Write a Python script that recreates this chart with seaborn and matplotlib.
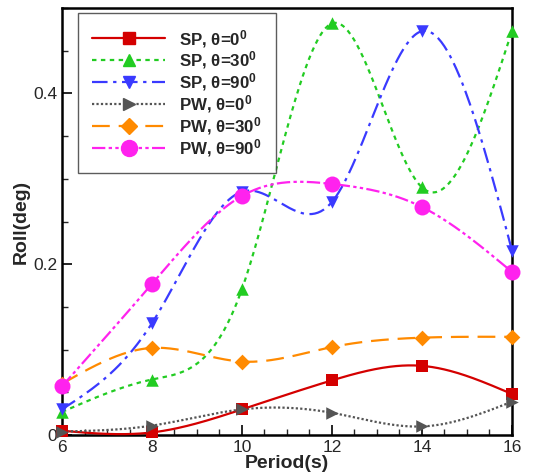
import numpy as np
import pandas as pd
import matplotlib
matplotlib.use("Agg")
import matplotlib.pyplot as plt
import seaborn as sns
from matplotlib.lines import Line2D
from matplotlib.ticker import MultipleLocator

periods = [6, 8, 10, 12, 14, 16]
sp_0 = [0.005, 0.003, 0.030, 0.064, 0.081, 0.048]
sp_30 = [0.027, 0.065, 0.171, 0.482, 0.290, 0.473]
sp_90 = [0.030, 0.131, 0.285, 0.273, 0.473, 0.216]
pw_0 = [0.004, 0.011, 0.030, 0.026, 0.010, 0.039]
pw_30 = [0.060, 0.102, 0.086, 0.103, 0.114, 0.115]
pw_90 = [0.057, 0.177, 0.280, 0.294, 0.267, 0.191]

labels = ["SP, θ=0$^0$", "SP, θ=30$^0$", "SP, θ=90$^0$",
          "PW, θ=0$^0$", "PW, θ=30$^0$", "PW, θ=90$^0$"]
series = [sp_0, sp_30, sp_90, pw_0, pw_30, pw_90]
colors = ["#d40000", "#22cc22", "#3a3aff", "#555555", "#ff8a00", "#ff22ee"]
markers = ["s", "^", "v", ">", "D", "o"]
msizes = [8, 9, 9, 9, 8, 11.5]
dashes = ["-", (0, (2, 2)), (0, (7, 2.5, 1.5, 2.5)), (0, (1, 1)),
          (0, (8, 4)), (0, (6, 1.5, 1.5, 1.5, 1.5, 1.5))]


def natural_spline(x, y, n=300):
    # plain natural cubic spline, only for drawing smooth curves
    x = np.asarray(x, float)
    y = np.asarray(y, float)
    k = len(x)
    h = np.diff(x)
    A = np.zeros((k, k))
    b = np.zeros(k)
    A[0, 0] = A[-1, -1] = 1
    for i in range(1, k - 1):
        A[i, i - 1] = h[i - 1]
        A[i, i] = 2 * (h[i - 1] + h[i])
        A[i, i + 1] = h[i]
        b[i] = 6 * ((y[i + 1] - y[i]) / h[i] - (y[i] - y[i - 1]) / h[i - 1])
    M = np.linalg.solve(A, b)
    xs = np.linspace(x[0], x[-1], n)
    idx = np.clip(np.searchsorted(x, xs) - 1, 0, k - 2)
    x0, x1 = x[idx], x[idx + 1]
    hh = x1 - x0
    a = (x1 - xs) / hh
    c = (xs - x0) / hh
    ys = (a * y[idx] + c * y[idx + 1]
          + ((a ** 3 - a) * M[idx] + (c ** 3 - c) * M[idx + 1]) * hh ** 2 / 6)
    return xs, ys


sns.set_style("ticks")
plt.rcParams["font.family"] = ["Liberation Sans", "DejaVu Sans"]
plt.rcParams["mathtext.fontset"] = "custom"
plt.rcParams["mathtext.rm"] = "Liberation Sans:bold"
plt.rcParams["mathtext.it"] = "Liberation Sans:bold"

fig = plt.figure(figsize=(5.42, 4.75), dpi=100)
ax = fig.add_axes([0.1144, 0.0842, 0.8302, 0.8988])

handles = []
for lab, vals, col, mk, ms, ls in zip(labels, series, colors, markers, msizes, dashes):
    xs, ys = natural_spline(periods, vals)
    sns.lineplot(x=xs, y=ys, ax=ax, color=col, linestyle=ls, linewidth=1.6,
                 clip_on=False, zorder=3)
    df = pd.DataFrame({"x": periods, "y": vals})
    sns.scatterplot(data=df, x="x", y="y", ax=ax, color=col, marker=mk,
                    s=ms ** 2, edgecolor=col, linewidth=0, clip_on=False, zorder=4)
    handles.append(Line2D([], [], color=col, linestyle=ls, linewidth=1.6,
                          marker=mk, markersize=ms, markeredgecolor=col))

ax.set_xlim(6, 16)
ax.set_ylim(0, 0.5)
ax.xaxis.set_major_locator(MultipleLocator(2))
ax.xaxis.set_minor_locator(MultipleLocator(0.5))
ax.yaxis.set_major_locator(MultipleLocator(0.2))
ax.yaxis.set_minor_locator(MultipleLocator(0.05))
ax.set_yticks([0, 0.2, 0.4])
ax.set_yticklabels(["0", "0.2", "0.4"])
ax.tick_params(which="both", direction="in", top=False, right=False, labelsize=12.5)
ax.tick_params(which="major", length=7, width=1.4)
ax.tick_params(which="minor", length=4, width=1)
for sp in ax.spines.values():
    sp.set_linewidth(1.8)
    sp.set_color("black")

ax.set_xlabel("Period(s)", fontsize=14, fontweight="bold", labelpad=0)
ax.set_ylabel("Roll(deg)", fontsize=14, fontweight="bold", labelpad=2)

leg = ax.legend(handles, labels, loc="upper left", bbox_to_anchor=(0.035, 0.988),
                borderaxespad=0, fontsize=12.2, handlelength=4.3, handletextpad=0.8,
                labelspacing=0.0, borderpad=0.85, fancybox=False, frameon=True)
leg.get_frame().set_edgecolor("#333333")
leg.get_frame().set_linewidth(1)
for t in leg.get_texts():
    t.set_fontweight("bold")

fig.savefig("out.png", dpi=100)
